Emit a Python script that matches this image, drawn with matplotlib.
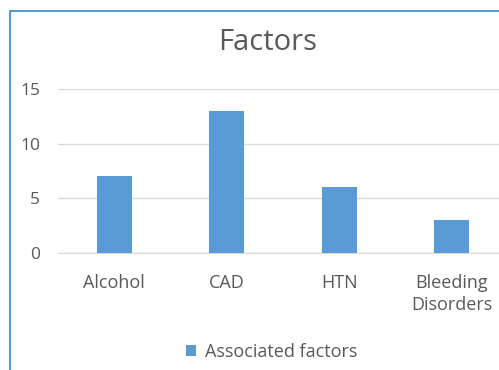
import matplotlib.pyplot as plt
from matplotlib.patches import Rectangle

categories = ["Alcohol", "CAD", "HTN", "Bleeding\nDisorders"]
values = [7, 13, 6, 3]
yticks = [0, 5, 10, 15]

BLUE = "#5B9BD5"
GREY = "#595959"

plt.rcParams['font.family'] = ['Open Sans', 'DejaVu Sans']

fig = plt.figure(figsize=(4.99, 3.70), dpi=100)
W, H = 499, 370

# plot area (chart is cropped on the right)
ax = fig.add_axes([58 / W, 1 - 253 / H, 450 / W, (253 - 89) / H])
x = range(len(categories))
ax.bar(x, values, width=0.31, color=BLUE, zorder=3, label="Associated factors")
ax.set_xlim(-0.5, len(categories) - 0.5)
ax.set_ylim(0, 15)
ax.set_yticks(yticks)
ax.set_xticks(list(x))
ax.set_xticklabels(categories, linespacing=1.3)
ax.grid(axis='y', color='#D9D9D9', linewidth=1, zorder=0)
for s in ['top', 'right', 'left']:
    ax.spines[s].set_visible(False)
ax.spines['bottom'].set_color('#D9D9D9')
ax.tick_params(axis='x', length=0, labelsize=13, colors=GREY, pad=15)
ax.tick_params(axis='y', length=0, labelsize=12.5, colors=GREY, pad=13)

fig.text(268 / W, 1 - 42 / H, "Factors", ha='center', va='center',
         fontsize=21, color=GREY)

# legend
fig.legend(loc='center', bbox_to_anchor=(272 / W, 1 - 352 / H), frameon=False,
           fontsize=13, labelcolor=GREY, handlelength=0.55, handleheight=0.55,
           handletextpad=0.5)

# chart border
fig.patches.append(Rectangle((10 / W, -0.1), 1.2, 1.1 - 11 / H,
                             transform=fig.transFigure, fill=False,
                             edgecolor=BLUE, linewidth=1.5))

fig.savefig("out.png", dpi=100)
